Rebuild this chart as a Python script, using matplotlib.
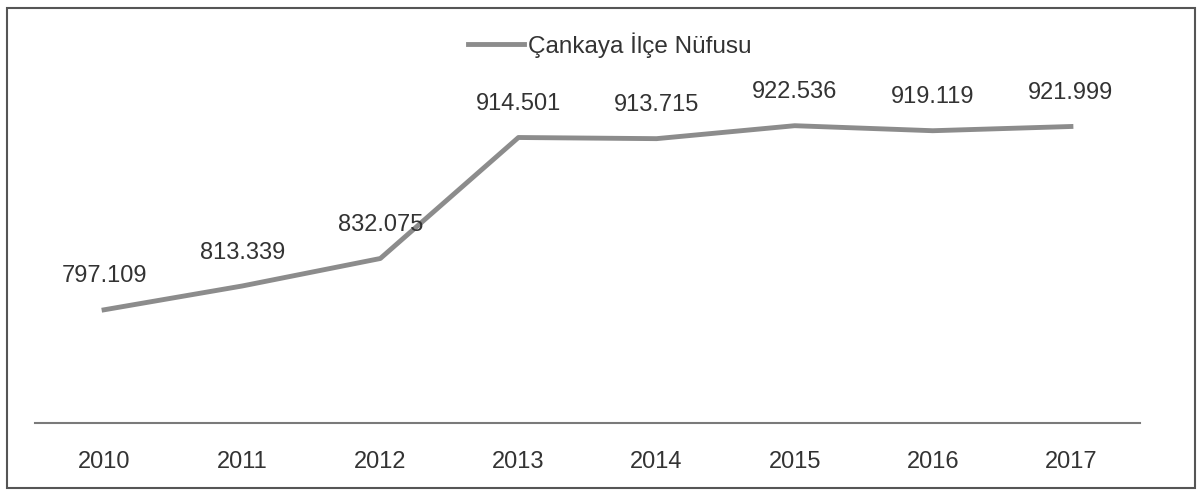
import matplotlib
matplotlib.use("Agg")
import matplotlib.pyplot as plt
from matplotlib.patches import Rectangle

years = ["2010", "2011", "2012", "2013", "2014", "2015", "2016", "2017"]
population = [797109, 813339, 832075, 914501, 913715, 922536, 919119, 921999]
labels = ["797.109", "813.339", "832.075", "914.501", "913.715", "922.536", "919.119", "921.999"]
series_name = "Çankaya İlçe Nüfusu"

plt.rcParams["font.family"] = ["Liberation Sans", "DejaVu Sans"]

W, H = 1202, 495
fig = plt.figure(figsize=(W / 100, H / 100), dpi=100)
fig.patch.set_facecolor("white")

ax = fig.add_axes([35 / W, (H - 423) / H, (1140 - 35) / W, (423 - 12) / H])
x = list(range(len(years)))
line, = ax.plot(x, population, color="#8c8c8c", linewidth=3.5, solid_joinstyle="round",
                label=series_name)

for xi, yi, lab in zip(x, population, labels):
    ax.annotate(lab, (xi, yi), xytext=(0, 24), textcoords="offset points",
                ha="center", va="center", fontsize=17, color="#333333")

ax.set_xlim(-0.5, len(years) - 0.5)
ax.set_ylim(720000, 1000000)
ax.set_xticks(x)
ax.set_xticklabels(years, fontsize=17, color="#333333")
ax.tick_params(axis="x", length=0, pad=20)
ax.set_yticks([])
for s in ["top", "right", "left"]:
    ax.spines[s].set_visible(False)
ax.spines["bottom"].set_color("#7a7a7a")
ax.spines["bottom"].set_linewidth(1.5)
ax.set_facecolor("none")

fig.legend(handles=[line], loc="center", bbox_to_anchor=(610 / W, (H - 45) / H),
           frameon=False, fontsize=17.5, handlelength=2.3, handletextpad=0.15,
           labelcolor="#333333")

fig.patches.append(Rectangle((7 / W, 7 / H), (1195 - 7) / W, (487 - 7) / H,
                             transform=fig.transFigure, fill=False,
                             edgecolor="#555555", linewidth=1.5))

fig.savefig("out.png", dpi=100, facecolor="white")
